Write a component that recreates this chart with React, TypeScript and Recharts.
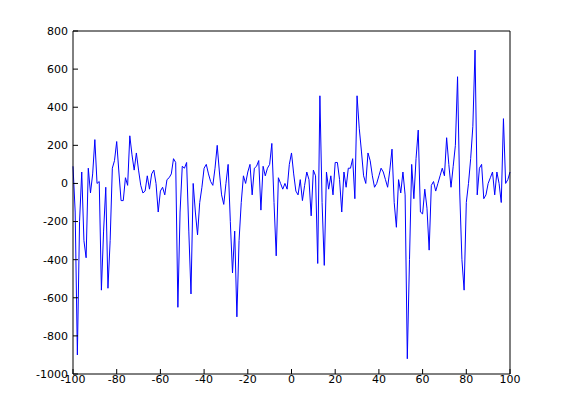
import { LineChart, Line, XAxis, YAxis } from 'recharts';

// sample positions run from -100 to 100 in steps of 1
const xStart = -100;

// values, one per integer x
const signal = [
  90, -150, -900, -200, 60, -300, -390, 80, -50, 50,
  230, 0, 10, -560, -250, -20, -550, -300, 80, 120,
  220, 60, -90, -90, 30, -10, 250, 150, 70, 160,
  70, -10, -50, -40, 40, -30, 50, 70, 0, -150,
  -40, -20, -60, 20, 30, 50, 130, 110, -650, -150,
  90, 80, 110, -250, -580, 0, -150, -270, -100, -20,
  80, 100, 50, 10, -10, 80, 200, 60, -60, -110,
  0, 100, -200, -470, -250, -700, -300, -100, 40, 0,
  60, 100, -60, 80, 90, 120, -140, 90, 40, 80,
  100, 210, -100, -380, 30, 0, -30, 0, -30, 100,
  160, 50, -40, -60, 20, -90, -10, 60, 20, -170,
  70, 40, -420, 460, -100, -430, 60, -30, 40, -60,
  110, 110, 20, -150, 60, -20, 80, 80, 130, -80,
  460, 290, 170, 40, 0, 160, 120, 40, -20, 0,
  40, 80, 60, 20, -20, 70, 180, -100, -230, 20,
  -50, 60, -60, -920, -400, 100, -80, 130, 280, -150,
  -160, -30, -130, -350, -10, 10, -40, 0, 40, 80,
  40, 240, 100, -20, 90, 200, 560, -50, -400, -560,
  -100, 0, 130, 300, 700, -60, 80, 100, -80, -60,
  0, 30, 60, -60, 60, 0, -100, 340, 0, 20,
  60,
];

const xTicks = [-100, -80, -60, -40, -20, 0, 20, 40, 60, 80, 100];
const yTicks = [-1000, -800, -600, -400, -200, 0, 200, 400, 600, 800];

const data = signal.map((v, i) => ({ x: xStart + i, y: v }));

const font = { fontFamily: 'DejaVu Sans', fontSize: 11, fill: '#000' };

export default function App() {
  return (
    <div style={{ position: 'absolute', left: 0, top: 0, width: 561, height: 420, background: '#fff' }}>
      <LineChart width={561} height={420} data={data} margin={{ top: 31, right: 51, bottom: 0, left: 0 }}>
        <XAxis
          dataKey="x"
          type="number"
          domain={[-100, 100]}
          ticks={xTicks}
          interval={0}
          height={46}
          tickSize={-5}
          tickMargin={6}
          stroke="#000"
          tick={font}
        />
        {/* mirrored top and right axes close the box with inward ticks */}
        <XAxis
          xAxisId="top"
          dataKey="x"
          orientation="top"
          mirror
          type="number"
          domain={[-100, 100]}
          ticks={xTicks}
          interval={0}
          height={1}
          tickSize={5}
          stroke="#000"
          tick={false}
        />
        <YAxis
          type="number"
          domain={[-1000, 800]}
          ticks={yTicks}
          interval={0}
          width={73}
          tickSize={-5}
          tickMargin={10}
          stroke="#000"
          tick={font}
        />
        <YAxis
          yAxisId="right"
          orientation="right"
          mirror
          type="number"
          domain={[-1000, 800]}
          ticks={yTicks}
          interval={0}
          width={1}
          tickSize={5}
          stroke="#000"
          tick={false}
        />
        <Line
          dataKey="y"
          type="linear"
          stroke="#0000ff"
          strokeWidth={1}
          dot={false}
          isAnimationActive={false}
        />
        {/* transparent copy so the box axes get a domain */}
        <Line
          xAxisId="top"
          yAxisId="right"
          dataKey="y"
          type="linear"
          stroke="transparent"
          dot={false}
          activeDot={false}
          legendType="none"
          isAnimationActive={false}
        />
      </LineChart>
    </div>
  );
}
